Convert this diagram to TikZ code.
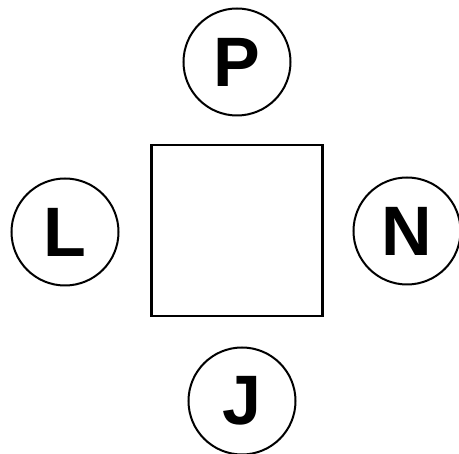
\documentclass[tikz,border=0pt]{standalone}
\usepackage{fontspec}
\setmainfont{Liberation Sans}
\begin{document}
\begin{tikzpicture}[x=1pt,y=-1pt,
  letter/.style={circle,draw,line width=2pt,minimum size=107pt,inner sep=0pt,font=\fontsize{70}{70}\selectfont\bfseries},
  box/.style={draw,line width=2.6pt,minimum size=171pt,inner sep=0pt}]
\useasboundingbox (0,0) rectangle (459,454);
\node[box] (sq) at (237,230.5) {};
\node[letter] (P) at (237,62) {P};
\node[letter] (L) at (65,232) {L};
\node[letter] (N) at (407,231) {N};
\node[letter] (J) at (242,401) {J};
\end{tikzpicture}
\end{document}
